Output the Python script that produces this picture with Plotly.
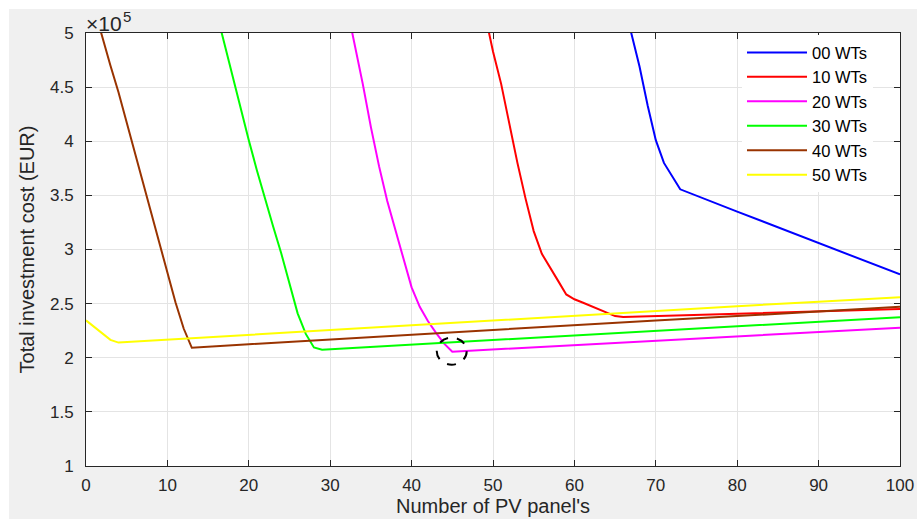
import plotly.graph_objects as go

# Data (total investment cost in units of 1e5 EUR)
x_00 = [66, 67, 68, 69, 70, 71, 72, 73, 80, 90, 100]
y_00 = [5.30, 4.98, 4.69, 4.33, 4.01, 3.80, 3.68, 3.556, 3.35, 3.06, 2.77]

x_10 = [49, 50, 51, 52, 53, 54, 55, 56, 57, 58, 59, 60, 61, 62, 63, 64, 65, 66, 70, 80, 90, 100]
y_10 = [5.18, 4.83, 4.53, 4.16, 3.80, 3.47, 3.17, 2.96, 2.83, 2.71, 2.585, 2.54, 2.51, 2.48,
        2.45, 2.42, 2.385, 2.376, 2.385, 2.405, 2.43, 2.45]

x_20 = [32, 33, 34, 35, 36, 37, 38, 39, 40, 41, 42, 43, 44, 45, 50, 60, 70, 80, 90, 100]
y_20 = [5.26, 4.90, 4.53, 4.13, 3.77, 3.45, 3.19, 2.93, 2.65, 2.47, 2.34, 2.23, 2.13, 2.056,
        2.076, 2.117, 2.158, 2.198, 2.238, 2.278]

x_30 = [16, 17, 18, 19, 20, 21, 22, 23, 24, 25, 26, 27, 28, 29, 40, 50, 60, 70, 80, 90, 100]
y_30 = [5.20, 4.90, 4.60, 4.30, 4.01, 3.73, 3.46, 3.21, 2.96, 2.68, 2.41, 2.22, 2.095, 2.075,
        2.122, 2.165, 2.21, 2.25, 2.295, 2.335, 2.375]

x_40 = [1, 2, 3, 4, 5, 6, 7, 8, 9, 10, 11, 12, 13, 20, 30, 40, 50, 60, 70, 80, 90, 100]
y_40 = [5.23, 4.96, 4.70, 4.45, 4.17, 3.90, 3.63, 3.35, 3.07, 2.79, 2.51, 2.27, 2.092,
        2.125, 2.17, 2.21, 2.255, 2.30, 2.345, 2.385, 2.43, 2.47]

x_50 = [0, 1, 2, 3, 4, 10, 20, 30, 40, 50, 60, 70, 80, 90, 100]
y_50 = [2.345, 2.285, 2.225, 2.165, 2.14, 2.168, 2.212, 2.256, 2.30, 2.345, 2.39, 2.432,
        2.476, 2.518, 2.56]

names = ["00 WTs", "10 WTs", "20 WTs", "30 WTs", "40 WTs", "50 WTs"]
colors = ["#0000ff", "#ff0000", "#ff00ff", "#00ff00", "#993300", "#ffff00"]
xs = [x_00, x_10, x_20, x_30, x_40, x_50]
ys = [y_00, y_10, y_20, y_30, y_40, y_50]

x_ticks = list(range(0, 101, 10))
y_ticks = [1, 1.5, 2, 2.5, 3, 3.5, 4, 4.5, 5]

# highlighted minimum (20 WTs)
circle_center = (44.93, 2.061)

FONT = "Liberation Sans, Arial"
TXT = "#262626"

fig = go.Figure()
for xv, yv, n, c in zip(xs, ys, names, colors):
    fig.add_trace(go.Scatter(x=xv, y=yv, mode="lines", name=n,
                             line=dict(color=c, width=2)))

axis_common = dict(
    showline=True, linecolor=TXT, linewidth=1, mirror="ticks",
    ticks="inside", ticklen=6, tickcolor=TXT, automargin=False,
    showgrid=True, gridcolor="#e4e4e4", gridwidth=1, zeroline=False,
    tickfont=dict(family=FONT, size=17, color=TXT),
)

fig.update_xaxes(range=[0, 100], tickvals=x_ticks, ticklabelstandoff=4,
                 title=dict(text="Number of PV panel's", standoff=4,
                            font=dict(family=FONT, size=20, color=TXT)),
                 **axis_common)
fig.update_yaxes(range=[1, 5], tickvals=y_ticks, ticklabelstandoff=8,
                 title=dict(text="Total investment cost (EUR)", standoff=9,
                            font=dict(family=FONT, size=20, color=TXT)),
                 **axis_common)

r = (1.84, 0.125)
fig.add_shape(type="circle", xref="x", yref="y",
              x0=circle_center[0] - r[0], x1=circle_center[0] + r[0],
              y0=circle_center[1] - r[1], y1=circle_center[1] + r[1],
              line=dict(color="black", width=2, dash="dash"))

# white strips (top & left) outside the gray figure area
fig.add_shape(type="rect", xref="paper", yref="paper", x0=-0.2, x1=1.1,
              y0=(466 - 9) / 433, y1=1.2, fillcolor="white", line_width=0, layer="below")
fig.add_shape(type="rect", xref="paper", yref="paper", x0=-0.2, x1=(9 - 86) / 814,
              y0=-0.2, y1=1.2, fillcolor="white", line_width=0, layer="below")

# axis multiplier "×10^5"
fig.add_annotation(xref="paper", yref="paper", x=0, y=1, xanchor="left", yanchor="bottom",
                   text="×10", showarrow=False, yshift=-4, xshift=-2,
                   font=dict(family=FONT, size=21, color=TXT))
fig.add_annotation(xref="paper", yref="paper", x=0, y=1, xanchor="left", yanchor="bottom",
                   text="5", showarrow=False, yshift=6, xshift=35,
                   font=dict(family=FONT, size=15, color=TXT))

fig.update_layout(
    width=917, height=519,
    margin=dict(l=86, r=17, t=33, b=53, autoexpand=False),
    paper_bgcolor="#f0f0f0", plot_bgcolor="white",
    showlegend=True,
    legend=dict(x=(742 - 86) / 814, y=0.995, xanchor="left", yanchor="top",
                bgcolor="white", borderwidth=0,
                font=dict(family=FONT, size=16.5, color="black"),
                tracegroupgap=0, itemwidth=60),
)

fig.write_html("out.html", config={"displayModeBar": False})
